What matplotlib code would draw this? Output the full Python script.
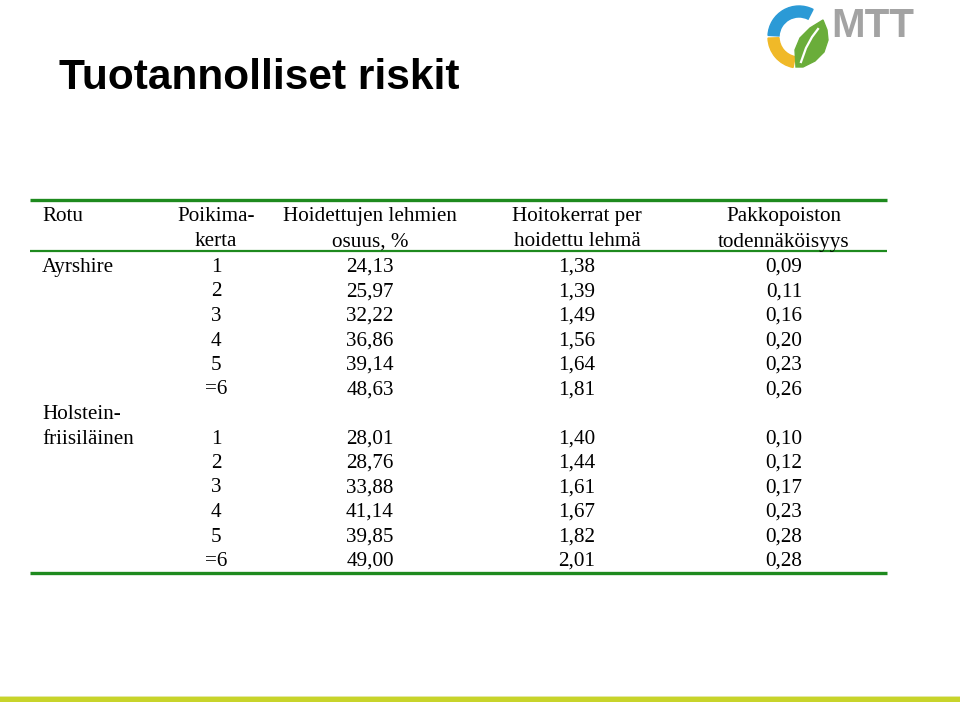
import matplotlib.pyplot as plt
from matplotlib.patches import Wedge, Polygon, Rectangle

plt.rcParams["font.family"] = ["Liberation Serif", "DejaVu Serif"]

TITLE = "Tuotannolliset riskit"

headers = ["Rotu", "Poikima-\nkerta", "Hoidettujen lehmien\nosuus, %",
           "Hoitokerrat per\nhoidettu lehmä", "Pakkopoiston\ntodennäköisyys"]

breeds = ["Ayrshire", "Holstein-\nfriisiläinen"]
calvings = ["1", "2", "3", "4", "5", "=6"]

share_ayr = ["24,13", "25,97", "32,22", "36,86", "39,14", "48,63"]
treat_ayr = ["1,38", "1,39", "1,49", "1,56", "1,64", "1,81"]
cull_ayr = ["0,09", "0,11", "0,16", "0,20", "0,23", "0,26"]

share_hol = ["28,01", "28,76", "33,88", "41,14", "39,85", "49,00"]
treat_hol = ["1,40", "1,44", "1,61", "1,67", "1,82", "2,01"]
cull_hol = ["0,10", "0,12", "0,17", "0,23", "0,28", "0,28"]

GREEN = "#1e8a1e"
FS = 15.2
BL = 7  # tekstin perusviiva rivin keskikohdasta

fig = plt.figure(figsize=(9.6, 7.02), dpi=100)
ax = fig.add_axes([0, 0, 1, 1])
ax.set_xlim(0, 960)
ax.set_ylim(702, 0)
ax.axis("off")

# otsikko
ax.text(59, 89, TITLE, fontsize=30.5, fontweight="bold", family="Liberation Sans",
        va="baseline", ha="left", color="black")

# sarakkeiden keskikohdat
col_x = [42, 216, 370, 577, 784]


def cell(x, y, s, ha="center"):
    ax.text(x, y + BL, s, fontsize=FS, ha=ha, va="baseline")


# taulukon viivat
ax.plot([30, 887], [200, 200], color=GREEN, lw=2.4, solid_capstyle="butt")
ax.plot([30, 887], [251, 251], color=GREEN, lw=1.6, solid_capstyle="butt")
ax.plot([30, 887], [573, 573], color=GREEN, lw=2.4, solid_capstyle="butt")

# otsikkorivi
for i, h in enumerate(headers):
    ha = "left" if i == 0 else "center"
    for j, line in enumerate(h.split("\n")):
        cell(col_x[i], 214 + j * 25.5, line, ha)

row_h = 24.5
y0 = 265
cell(col_x[0], y0, breeds[0], "left")
for k in range(len(calvings)):
    y = y0 + k * row_h
    cell(col_x[1], y, calvings[k])
    cell(col_x[2], y, share_ayr[k])
    cell(col_x[3], y, treat_ayr[k])
    cell(col_x[4], y, cull_ayr[k])

y1 = y0 + 7 * row_h
for j, line in enumerate(breeds[1].split("\n")):
    cell(col_x[0], y1 - row_h + j * row_h, line, "left")
for k in range(len(calvings)):
    y = y1 + k * row_h
    cell(col_x[1], y, calvings[k])
    cell(col_x[2], y, share_hol[k])
    cell(col_x[3], y, treat_hol[k])
    cell(col_x[4], y, cull_hol[k])

# MTT-logo
cx, cy, r = 799, 37, 31
ax.add_patch(Wedge((cx, cy), r, 183, 297, width=11, color="#2b9ad6"))
ax.add_patch(Wedge((cx, cy), r, 101, 178, width=11, color="#f0b928"))
ax.add_patch(Polygon([[796, 67], [795, 50], [800, 38], [810, 28], [823, 20],
                      [827, 30], [828, 40], [824, 52], [815, 61], [803, 67]],
                     closed=True, color="#6aad3a"))
ax.plot([801, 806, 812, 818], [62, 48, 37, 29], color="white", lw=1.6)
ax.text(831, 37, "MTT", fontsize=29, fontweight="bold", family="Liberation Sans",
        color="#a3a3a3", ha="left", va="baseline")

# alapalkki
ax.add_patch(Rectangle((0, 695.5), 960, 1.5, color="#e3e9a6", lw=0))
ax.add_patch(Rectangle((0, 697), 960, 5, color="#c8d42a", lw=0))

fig.savefig("out.png", dpi=100)
